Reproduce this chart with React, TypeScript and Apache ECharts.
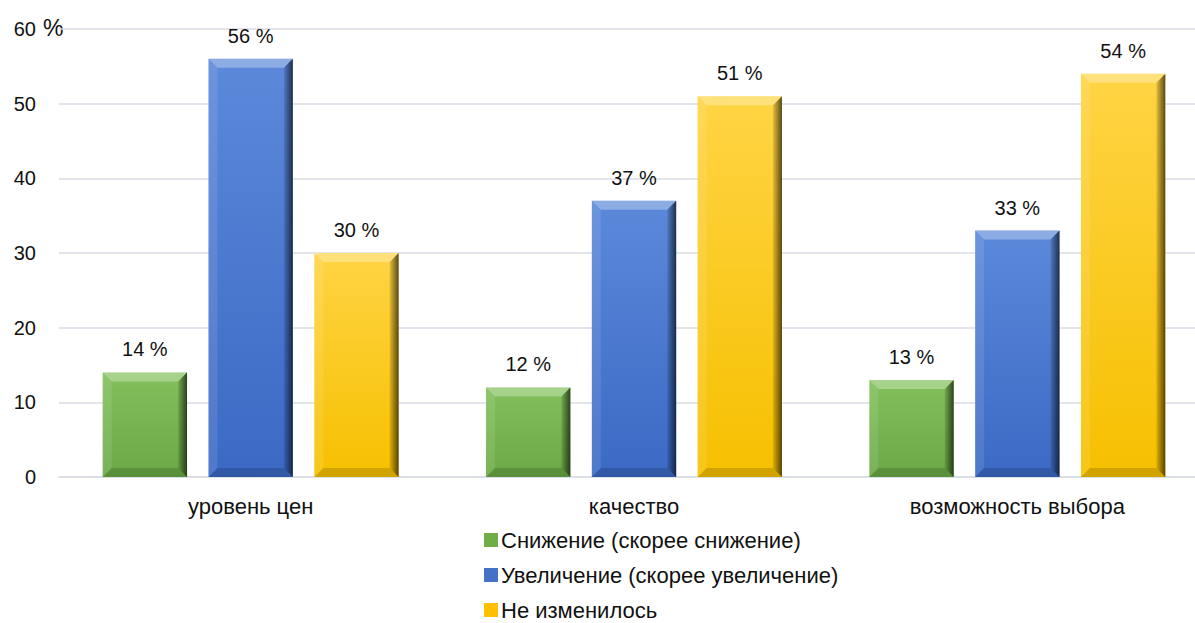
import React, { useEffect, useRef } from "react";
import * as echarts from "echarts";

const categories = ["уровень цен", "качество", "возможность выбора"];
const seriesNames = [
  "Снижение (скорее снижение)",
  "Увеличение (скорее увеличение)",
  "Не изменилось",
];
const decreaseValues = [14, 12, 13];
const increaseValues = [56, 37, 33];
const unchangedValues = [30, 51, 54];
const yTicks = [0, 10, 20, 30, 40, 50, 60];

const palettes = [
  { top: "#82c05c", bottom: "#6aa945", legend: "#70AD47" },
  { top: "#5c89da", bottom: "#3b69c4", legend: "#4472C4" },
  { top: "#ffd444", bottom: "#f6c000", legend: "#FFC000" },
];

const FONT = "Liberation Sans";

function makeRenderItem(s: number) {
  return (params: any, api: any) => {
    const cat = api.value(0);
    const val = api.value(1);
    const base = api.coord([cat, 0]);
    const topPt = api.coord([cat, val]);
    const band = api.size([1, 0])[0];
    const w = band * 0.22;
    const gap = band * 0.056;
    const cx = base[0] + (s - 1) * (w + gap);
    const x0 = cx - w / 2;
    const x1 = x0 + w;
    const y0 = topPt[1];
    const y1 = base[1];
    const b = Math.min(9, (y1 - y0) / 2);
    const p = palettes[s];
    return {
      type: "group",
      children: [
        {
          type: "rect",
          shape: { x: x0, y: y0, width: w, height: y1 - y0 },
          style: {
            fill: new echarts.graphic.LinearGradient(0, 0, 0, 1, [
              { offset: 0, color: p.top },
              { offset: 1, color: p.bottom },
            ]),
          },
        },
        {
          type: "polygon",
          shape: { points: [[x0, y0], [x1, y0], [x1 - b, y0 + b], [x0 + b, y0 + b]] },
          style: { fill: "rgba(255,255,255,0.3)" },
        },
        {
          type: "polygon",
          shape: { points: [[x0, y0], [x0 + b, y0 + b], [x0 + b, y1 - b], [x0, y1]] },
          style: { fill: "rgba(255,255,255,0.1)" },
        },
        {
          type: "polygon",
          shape: { points: [[x1, y0], [x1, y1], [x1 - b, y1 - b], [x1 - b, y0 + b]] },
          style: {
            fill: new echarts.graphic.LinearGradient(0, 0, 1, 0, [
              { offset: 0, color: "rgba(0,0,0,0.1)" },
              { offset: 1, color: "rgba(0,0,0,0.65)" },
            ]),
          },
        },
        {
          type: "polygon",
          shape: { points: [[x0, y1], [x1, y1], [x1 - b, y1 - b], [x0 + b, y1 - b]] },
          style: { fill: "rgba(0,0,0,0.15)" },
        },
        {
          type: "text",
          style: {
            text: val + " %",
            x: cx,
            y: y0 - 13,
            align: "center",
            verticalAlign: "bottom",
            fontSize: 20,
            fontFamily: FONT,
            fill: "#111",
          },
        },
      ],
    };
  };
}

export default function App() {
  const ref = useRef<HTMLDivElement>(null);
  useEffect(() => {
    document.body.style.margin = "0";
    const chart = echarts.init(ref.current!, null, { renderer: "svg" });
    const all = [decreaseValues, increaseValues, unchangedValues];
    chart.setOption({
      animation: false,
      textStyle: { fontFamily: FONT },
      grid: { left: 59, width: 1150, top: 29, bottom: 146, outerBoundsMode: "none" },
      xAxis: {
        type: "category",
        data: categories,
        axisLine: { show: true, lineStyle: { color: "#d9dde4", width: 1.5 } },
        axisTick: { show: false },
        axisLabel: { color: "#111", fontSize: 22, margin: 18, fontFamily: FONT },
      },
      yAxis: {
        type: "value",
        min: yTicks[0],
        max: yTicks[yTicks.length - 1],
        interval: 10,
        axisLine: { show: false },
        axisTick: { show: false },
        splitLine: { lineStyle: { color: "#d9dde4", width: 1.5 } },
        axisLabel: { color: "#111", fontSize: 20, margin: 23, fontFamily: FONT },
      },
      legend: {
        orient: "vertical",
        left: 484,
        top: 529,
        height: 94,
        padding: 0,
        itemWidth: 14,
        itemHeight: 14,
        itemGap: 13,
        icon: "rect",
        textStyle: {
          fontSize: 22,
          lineHeight: 20,
          color: "#111",
          fontFamily: FONT,
          padding: [0, 0, 0, -2],
        },
        data: seriesNames,
      },
      graphic: [
        {
          type: "text",
          left: 43,
          top: 16,
          style: { text: "%", fontSize: 23, fontFamily: FONT, fill: "#111" },
        },
      ],
      series: all.map((vals, s) => ({
        type: "custom",
        name: seriesNames[s],
        itemStyle: { color: palettes[s].legend },
        renderItem: makeRenderItem(s),
        encode: { x: 0, y: 1 },
        data: vals.map((v, i) => [i, v]),
      })),
    });
    return () => chart.dispose();
  }, []);
  return <div ref={ref} style={{ width: 1195, height: 623 }} />;
}
